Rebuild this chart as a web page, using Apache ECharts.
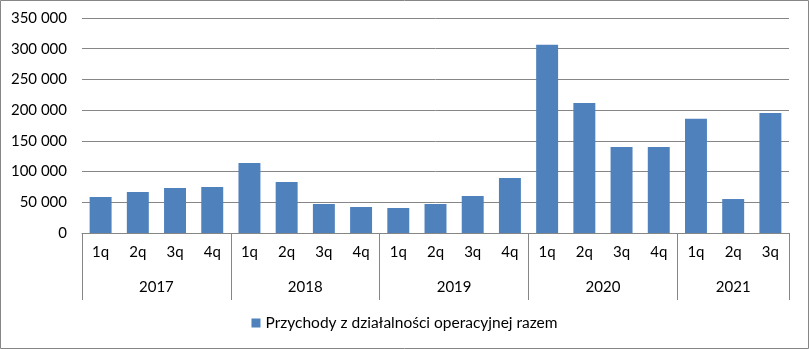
<!DOCTYPE html>
<html>
<head>
<meta charset="utf-8">
<script src="https://cdn.jsdelivr.net/npm/echarts@6/dist/echarts.min.js"></script>
<style>
html,body{margin:0;padding:0;background:#fff;}
#chart{width:809px;height:349px;}
</style>
</head>
<body>
<div id="chart"></div>
<script>
var quarters = ['1q','2q','3q','4q','1q','2q','3q','4q','1q','2q','3q','4q','1q','2q','3q','4q','1q','2q','3q'];
var years = ['2017','2018','2019','2020','2021'];
var quartersPerYear = [4,4,4,4,3];
var seriesName = 'Przychody z działalności operacyjnej razem';
var values = [58600,66700,73200,74900,114000,83000,47200,42300,40700,47200,60200,89500,306500,211600,140000,140000,186100,55300,195300];
var yTicks = [0,50000,100000,150000,200000,250000,300000,350000];

var boundaries = [0];
var centers = [];
var acc = 0;
quartersPerYear.forEach(function(n){ centers.push(acc + n/2); acc += n; boundaries.push(acc); });
var centerToYear = {};
centers.forEach(function(c,i){ centerToYear[c] = years[i]; });

var font = 'Lato';
var txt = '#000';
var gridColor = '#868686';

var chart = echarts.init(document.getElementById('chart'), null, {renderer:'canvas'});
chart.setOption({
  animation:false,
  textStyle:{fontFamily:font},
  grid:{left:82, right:20, top:18, bottom:116, containLabel:false},
  legend:{
    bottom:13, left:'center',
    itemWidth:9, itemHeight:9, icon:'rect',
    textStyle:{fontFamily:font, fontSize:15.5, color:txt},
    data:[seriesName]
  },
  xAxis:[{
    type:'category',
    data:quarters,
    axisLine:{show:true, lineStyle:{color:gridColor, width:1}},
    axisTick:{show:false},
    axisLabel:{margin:12, fontFamily:font, fontSize:15, color:txt, interval:0}
  },{
    type:'value',
    min:0, max:quarters.length,
    position:'bottom',
    axisLine:{show:false},
    splitLine:{show:false},
    axisTick:{show:true, customValues:boundaries, length:67, lineStyle:{color:gridColor, width:1}},
    axisLabel:{margin:47, fontFamily:font, fontSize:15, color:txt, customValues:centers,
      formatter:function(v){ return centerToYear[v] || ''; }}
  }],
  yAxis:{
    type:'value',
    min:yTicks[0], max:yTicks[yTicks.length-1], interval:50000,
    axisLine:{show:false},
    axisTick:{show:false},
    splitLine:{lineStyle:{color:gridColor, width:1}},
    axisLabel:{margin:15, fontFamily:font, fontSize:15, color:txt,
      formatter:function(v){ return String(v).replace(/\B(?=(\d{3})+(?!\d))/g,' '); }}
  },
  series:[{
    name:seriesName,
    type:'bar',
    xAxisIndex:0,
    data:values,
    barCategoryGap:'41%',
    itemStyle:{color:'#4F81BD'}
  }],
  graphic:[{
    type:'rect',
    shape:{x:0.5,y:0.5,width:808,height:348},
    style:{fill:null, stroke:'#868686', lineWidth:1},
    silent:true, z:-1
  }]
});
</script>
</body>
</html>
